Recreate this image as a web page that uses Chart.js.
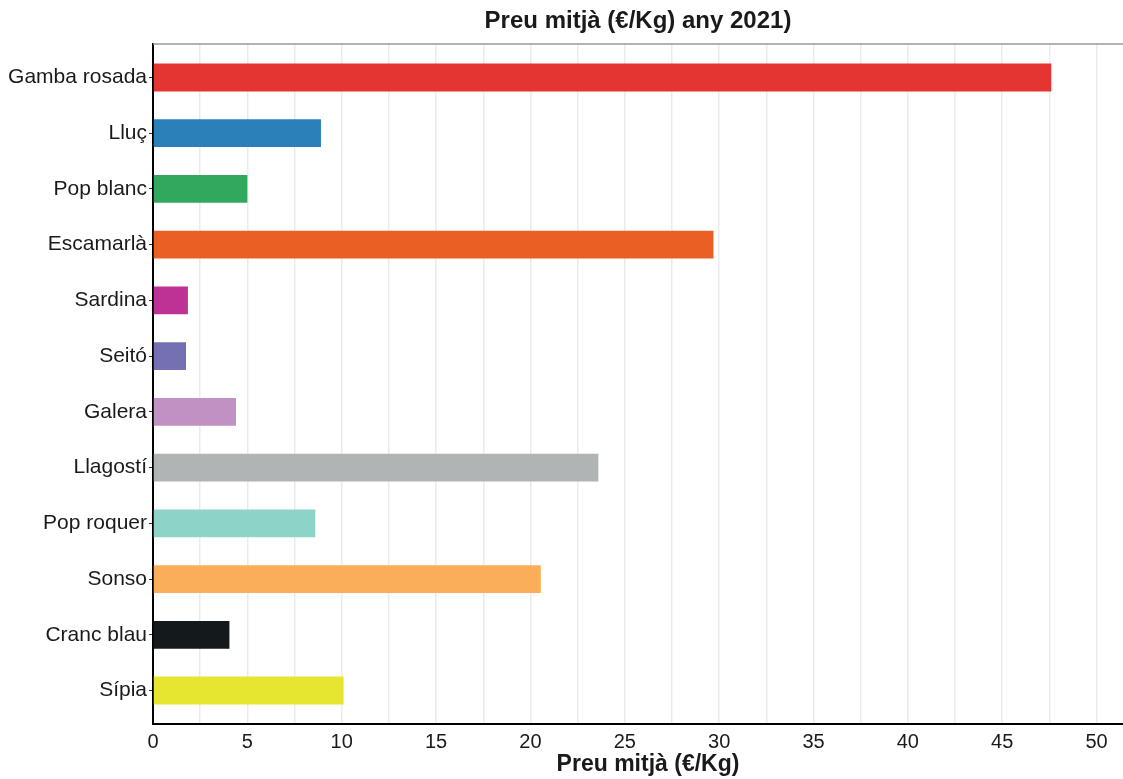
<!DOCTYPE html>
<html>
<head>
<meta charset="utf-8">
<script src="https://cdn.jsdelivr.net/npm/chart.js@4"></script>
<style>
  body { margin: 0; background: #fff; }
  #wrap { width: 1123px; height: 779px; }
</style>
</head>
<body>
<div id="wrap"><canvas id="canvas"></canvas></div>
<script>
var species = ['Gamba rosada', 'Lluç', 'Pop blanc', 'Escamarlà', 'Sardina', 'Seitó',
    'Galera', 'Llagostí', 'Pop roquer', 'Sonso', 'Cranc blau', 'Sípia'];
var price = [47.6, 8.9, 5.0, 29.7, 1.85, 1.75, 4.4, 23.6, 8.6, 20.55, 4.05, 10.1];
var barColors = ['#e53533', '#2b80b9', '#31a85e', '#ea5f24', '#be3295', '#7570b3',
    '#c291c4', '#b1b4b4', '#8dd3c7', '#fbae5a', '#141a1c', '#e6e631'];

var points = species.map(function (s, i) {
    return { x: price[i], y: i };
});

var FONT = '"Liberation Sans", Arial, sans-serif';

// titles + grey top border
var framePlugin = {
    id: 'frame',
    afterDraw: function (chart) {
        var ctx = chart.ctx;
        var a = chart.chartArea;
        ctx.save();
        ctx.strokeStyle = '#9a9a9a';
        ctx.lineWidth = 1.5;
        ctx.beginPath();
        ctx.moveTo(a.left, a.top);
        ctx.lineTo(a.right, a.top);
        ctx.stroke();
        ctx.fillStyle = '#1a1a1a';
        ctx.textAlign = 'center';
        ctx.textBaseline = 'middle';
        ctx.font = 'bold 24px ' + FONT;
        ctx.fillText('Preu mitjà (€/Kg) any 2021)', 638, 21);
        ctx.font = 'bold 23px ' + FONT;
        ctx.fillText('Preu mitjà (€/Kg)', 648, 765);
        ctx.restore();
    }
};

var config = {
    type: 'bar',
    data: {
        datasets: [{
            label: 'Preu mitjà',
            data: points,
            backgroundColor: barColors,
            borderWidth: 0,
            barPercentage: 0.5,
            categoryPercentage: 1.0
        }]
    },
    options: {
        indexAxis: 'y',
        responsive: true,
        maintainAspectRatio: false,
        animation: false,
        layout: { padding: { top: 44, right: 0, left: 0, bottom: 0 } },
        plugins: {
            legend: { display: false },
            title: { display: false },
            tooltip: { enabled: false }
        },
        scales: {
            x: {
                type: 'linear',
                min: 0,
                max: 51.4,
                afterFit: function (scale) { scale.height = 55; },
                grid: {
                    color: '#ebebeb',
                    lineWidth: 1.5,
                    drawTicks: false
                },
                border: { color: '#000', width: 2 },
                ticks: {
                    stepSize: 2.5,
                    includeBounds: false,
                    autoSkip: false,
                    maxRotation: 0,
                    padding: 6,
                    color: '#1a1a1a',
                    font: { size: 20, family: FONT },
                    callback: function (v) { return v % 5 === 0 ? v : ''; }
                }
            },
            y: {
                type: 'linear',
                reverse: true,
                offset: false,
                min: -0.6,
                max: 11.6,
                afterFit: function (scale) { scale.width = 153; },
                grid: {
                    offset: false,
                    drawOnChartArea: false,
                    drawTicks: true,
                    tickLength: 4,
                    color: '#333'
                },
                border: { color: '#000', width: 2 },
                ticks: {
                    stepSize: 1,
                    includeBounds: false,
                    autoSkip: false,
                    padding: 2,
                    color: '#1a1a1a',
                    font: { size: 21, family: FONT },
                    callback: function (v) { return species[v]; }
                }
            }
        }
    },
    plugins: [framePlugin]
};

window.onload = function () {
    var ctx = document.getElementById('canvas').getContext('2d');
    window.myBar = new Chart(ctx, config);
};
</script>
</body>
</html>
